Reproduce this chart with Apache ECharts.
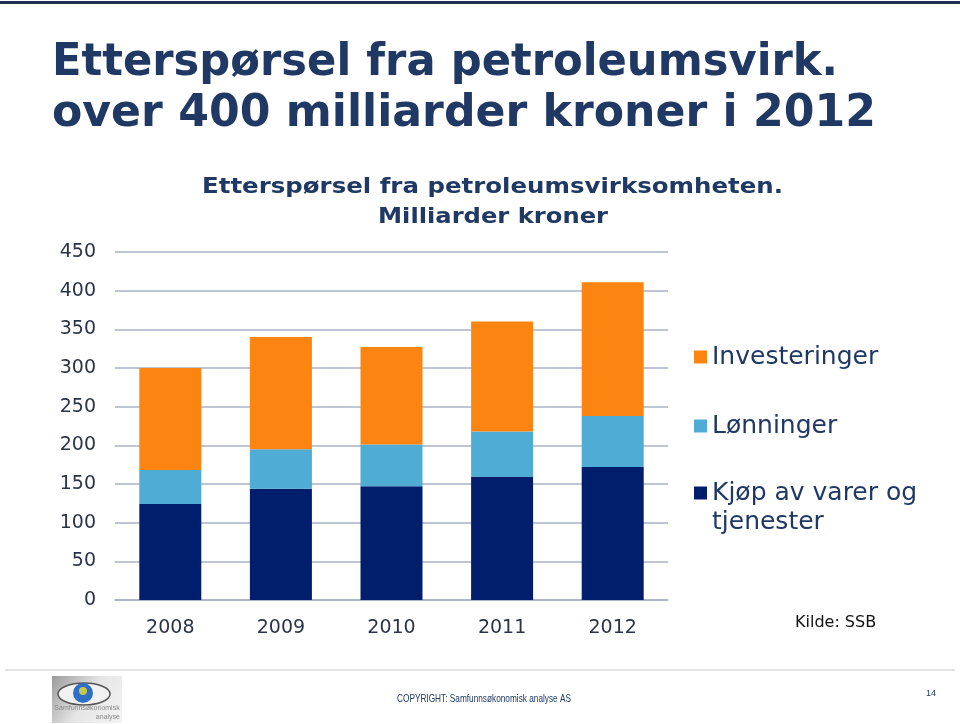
<!DOCTYPE html>
<html>
<head>
<meta charset="utf-8">
<style>html,body{margin:0;padding:0;background:#fff;}#c{width:960px;height:724px;}</style>
<script src="https://cdn.jsdelivr.net/npm/echarts@6/dist/echarts.min.js"></script>
</head>
<body>
<div id="c"></div>
<script>
var years = ['2008', '2009', '2010', '2011', '2012'];
var kjop = [124, 144, 147, 159, 172];
var lonninger = [44, 51, 54, 59, 66];
var investeringer = [132, 145, 126, 142, 173];
var yTicks = [0, 50, 100, 150, 200, 250, 300, 350, 400, 450];

var navy = '#1f3864';
var ctx = document.createElement('canvas').getContext('2d');
function fitScale(text, font, target) {
  ctx.font = font;
  return target / ctx.measureText(text).width;
}
function fitText(text, x, y, fontSize, weight, family, width, color) {
  var font = weight + ' ' + fontSize + 'px ' + family;
  return {
    type: 'text', x: x, y: y, scaleX: fitScale(text, font, width), silent: true,
    style: { text: text, font: font, fill: color, textAlign: 'left', textVerticalAlign: 'middle' }
  };
}

var chart = echarts.init(document.getElementById('c'), null, { renderer: 'canvas' });
var option = {
  backgroundColor: '#ffffff',
  animation: false,
  grid: { left: 115, right: 292, top: 252, bottom: 124 },
  xAxis: {
    type: 'category', data: years,
    axisLine: { show: true, lineStyle: { color: '#aab2c4', width: 1.5 } },
    axisTick: { show: false },
    axisLabel: { color: '#2a3448', fontSize: 19, fontFamily: 'DejaVu Sans', margin: 19 }
  },
  yAxis: {
    type: 'value', min: yTicks[0], max: yTicks[yTicks.length - 1], interval: yTicks[1] - yTicks[0],
    axisLine: { show: false }, axisTick: { show: false },
    splitLine: { lineStyle: { color: '#aab2c4', width: 1.5 } },
    axisLabel: { color: '#2a3448', fontSize: 19, fontFamily: 'DejaVu Sans', margin: 19 }
  },
  legend: [
    {
      data: ['Investeringer', 'Lønninger'], orient: 'vertical', left: 694, top: 342, padding: 0,
      itemWidth: 13, itemHeight: 13, itemGap: 39, icon: 'rect', selectedMode: false,
      textStyle: { color: navy, fontSize: 25, fontFamily: 'DejaVu Sans', lineHeight: 30 }
    },
    {
      data: ['Kjøp av varer og tjenester'], orient: 'vertical', left: 694, top: 449.5, padding: 0,
      itemWidth: 13, itemHeight: 13, icon: 'rect', selectedMode: false,
      formatter: function () { return ' \nKjøp av varer og\ntjenester'; },
      textStyle: { color: navy, fontSize: 25, fontFamily: 'DejaVu Sans', lineHeight: 29 }
    }
  ],
  series: [
    { name: 'Kjøp av varer og tjenester', type: 'bar', stack: 't', data: kjop, barWidth: 62, itemStyle: { color: '#001e6c' } },
    { name: 'Lønninger', type: 'bar', stack: 't', data: lonninger, barWidth: 62, itemStyle: { color: '#4facd5' } },
    { name: 'Investeringer', type: 'bar', stack: 't', data: investeringer, barWidth: 62, itemStyle: { color: '#fc8511' } }
  ],
  graphic: [
    { type: 'rect', shape: { x: 0, y: 1, width: 960, height: 3 }, style: { fill: '#1f3050' }, silent: true },
    fitText('Etterspørsel fra petroleumsvirk.', 52, 63, 45, 'bold', 'DejaVu Sans', 786, navy),
    fitText('over 400 milliarder kroner i 2012', 52, 114, 45, 'bold', 'DejaVu Sans', 824, navy),
    fitText('Etterspørsel fra petroleumsvirksomheten.', 202, 187, 22, 'bold', 'DejaVu Sans', 581, navy),
    fitText('Milliarder kroner', 378, 217, 22, 'bold', 'DejaVu Sans', 230, navy),
    { type: 'text', x: 795, y: 623, silent: true, style: { text: 'Kilde: SSB', font: '16px DejaVu Sans', fill: '#111', textVerticalAlign: 'middle' } },
    { type: 'rect', shape: { x: 5, y: 669, width: 950, height: 2 }, style: { fill: '#e4e4e4' }, silent: true },
    { type: 'rect', shape: { x: 52, y: 676, width: 70, height: 47 },
      style: { fill: new echarts.graphic.LinearGradient(0, 0, 1, 1, [{ offset: 0, color: '#9a9a9a' }, { offset: 0.5, color: '#e6e6e6' }, { offset: 1, color: '#f4f4f4' }]) }, silent: true },
    { type: 'ellipse', shape: { cx: 84, cy: 694, rx: 26, ry: 11 }, style: { fill: '#f2f2f2', stroke: '#555', lineWidth: 1.5 }, silent: true },
    { type: 'circle', shape: { cx: 83, cy: 693, r: 10 }, style: { fill: '#2f6fc4' }, silent: true },
    { type: 'circle', shape: { cx: 83, cy: 691, r: 4 }, style: { fill: '#c8c850' }, silent: true },
    { type: 'text', x: 87, y: 708, silent: true, style: { text: 'Samfunnsøkonomisk', font: '7px Liberation Sans', fill: '#8a8a8a', textAlign: 'center', textVerticalAlign: 'middle' } },
    { type: 'text', x: 120, y: 717, silent: true, style: { text: 'analyse', font: '7px Liberation Sans', fill: '#8a8a8a', textAlign: 'right', textVerticalAlign: 'middle' } },
    fitText('COPYRIGHT: Samfunnsøkonomisk analyse AS', 397, 699, 11, 'normal', 'Liberation Sans', 174, navy),
    { type: 'text', x: 931, y: 694, silent: true, style: { text: '14', font: '9px Liberation Sans', fill: navy, textAlign: 'center', textVerticalAlign: 'middle' } }
  ]
};
chart.setOption(option);
</script>
</body>
</html>
